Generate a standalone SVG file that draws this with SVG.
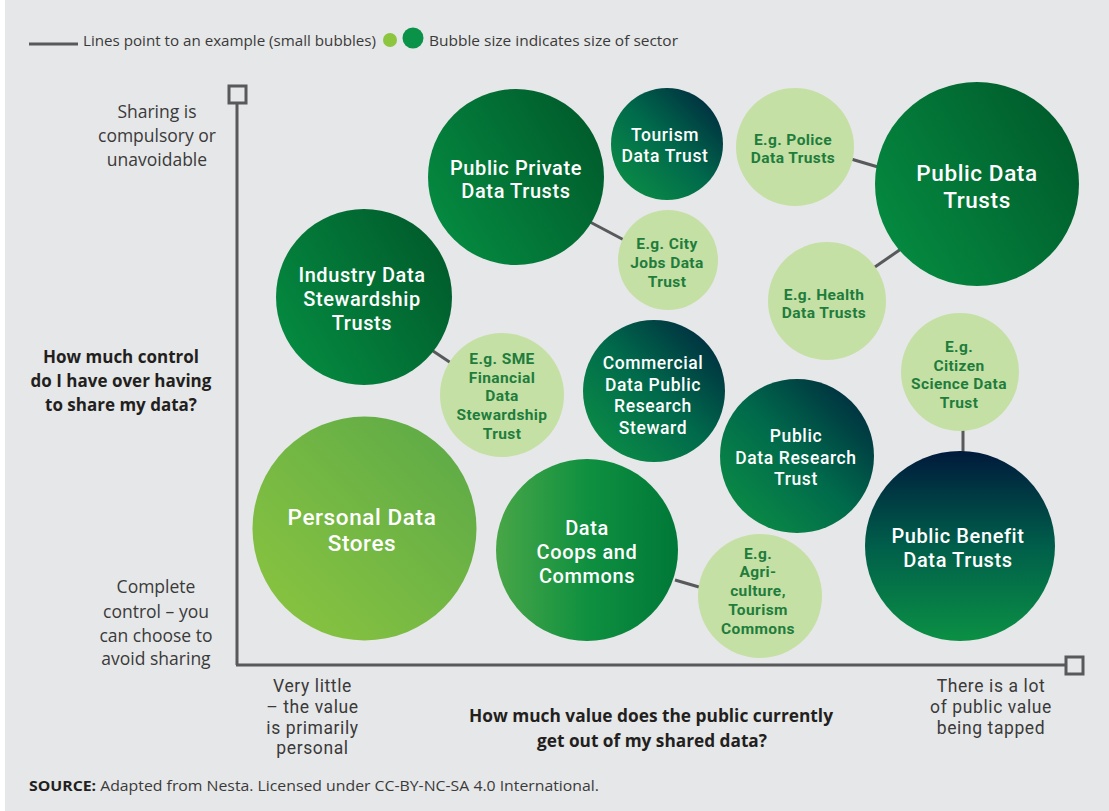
<svg xmlns="http://www.w3.org/2000/svg" width="1109" height="811" viewBox="0 0 1109 811">
<style>
.bt{font-family:Roboto,"Liberation Sans",sans-serif;font-weight:500;fill:#ffffff;text-anchor:middle;letter-spacing:0.6px}
.lt{font-family:Roboto,"Liberation Sans",sans-serif;font-weight:700;fill:#1f7d3c;text-anchor:middle;font-size:15.5px;letter-spacing:0.4px}
.ax{font-family:"Open Sans","Liberation Sans",sans-serif;fill:#3a3a3a;text-anchor:middle;font-size:17.5px}
.axr{font-family:Roboto,"Liberation Sans",sans-serif;fill:#3a3a3a;text-anchor:middle;font-size:17.5px;letter-spacing:0.6px}
.axb{font-family:"Open Sans","Liberation Sans",sans-serif;font-weight:700;fill:#231f20;text-anchor:middle;font-size:17px}
.cn{font-family:"Open Sans","Liberation Sans",sans-serif;fill:#3a3a3a;font-size:15px}
.conn line{stroke:#58595b;stroke-width:3}
.light{fill:#c5e0a5}
</style>
<defs>
<linearGradient id="gDeep" x1="0" y1="0.8" x2="1" y2="0.2"><stop offset="0" stop-color="#058c41"/><stop offset="1" stop-color="#005a2b"/></linearGradient>
<linearGradient id="gNavy" x1="0" y1="1" x2="1" y2="0"><stop offset="0" stop-color="#0e9444"/><stop offset="0.5" stop-color="#006a4b"/><stop offset="1" stop-color="#001f3d"/></linearGradient>
<linearGradient id="gBen" x1="0" y1="0" x2="0" y2="1"><stop offset="0" stop-color="#001a3c"/><stop offset="0.5" stop-color="#005e4a"/><stop offset="1" stop-color="#0b9044"/></linearGradient>
<linearGradient id="gCoop" x1="0" y1="0" x2="1" y2="0"><stop offset="0" stop-color="#48a647"/><stop offset="0.5" stop-color="#0f9040"/><stop offset="1" stop-color="#007838"/></linearGradient>
<linearGradient id="gPers" x1="0" y1="1" x2="1" y2="0"><stop offset="0" stop-color="#8dc63f"/><stop offset="1" stop-color="#5aa848"/></linearGradient>
</defs>
<rect x="0" y="0" width="1109" height="811" fill="#ffffff"/>
<rect x="5" y="0" width="1104" height="811" fill="#e6e7e8"/>

<g id="legend">
<line x1="29" y1="44" x2="78" y2="44" stroke="#58595b" stroke-width="3"/>
<text class="cn" x="83" y="46" textLength="293" lengthAdjust="spacingAndGlyphs">Lines point to an example (small bubbles)</text>
<circle cx="390" cy="40" r="7" fill="#8cc63f"/>
<circle cx="413" cy="38" r="10.5" fill="#0a9348"/>
<text class="cn" x="429" y="46" textLength="249" lengthAdjust="spacingAndGlyphs">Bubble size indicates size of sector</text>
</g>

<g id="axes" fill="none" stroke="#58595b" stroke-width="3">
<line x1="237" y1="103" x2="237" y2="665"/>
<line x1="236" y1="665" x2="1066" y2="665"/>
<rect x="229" y="86" width="17" height="17"/>
<rect x="1066" y="657" width="17" height="17"/>
</g>

<g id="axis-labels">
<text class="ax" x="157" y="118">Sharing is</text>
<text class="ax" x="157" y="142">compulsory or</text>
<text class="ax" x="157" y="166">unavoidable</text>
<text class="axb" x="121" y="363">How much control</text>
<text class="axb" x="121" y="387">do I have over having</text>
<text class="axb" x="121" y="411">to share my data?</text>
<text class="ax" x="156" y="593">Complete</text>
<text class="ax" x="156" y="618">control – you</text>
<text class="ax" x="156" y="642">can choose to</text>
<text class="ax" x="156" y="665">avoid sharing</text>
<text class="axr" x="312.5" y="692">Very little</text>
<text class="axr" x="312.5" y="713">– the value</text>
<text class="axr" x="312.5" y="734">is primarily</text>
<text class="axr" x="312.5" y="754">personal</text>
<text class="axb" x="651" y="722" textLength="364" lengthAdjust="spacingAndGlyphs">How much value does the public currently</text>
<text class="axb" x="652" y="747" textLength="230" lengthAdjust="spacingAndGlyphs">get out of my shared data?</text>
<text class="axr" x="991" y="692">There is a lot</text>
<text class="axr" x="991" y="713">of public value</text>
<text class="axr" x="991" y="734">being tapped</text>
</g>

<g id="connectors" class="conn">
<line x1="590" y1="222" x2="624" y2="240"/>
<line x1="430" y1="349" x2="451" y2="363"/>
<line x1="851" y1="159" x2="878" y2="167"/>
<line x1="872" y1="269" x2="901" y2="249"/>
<line x1="963" y1="429" x2="963" y2="456"/>
<line x1="675" y1="580" x2="699" y2="587"/>
</g>

<g id="public-private">
<circle cx="516" cy="177" r="88" fill="url(#gDeep)"/>
<text class="bt" font-size="20" x="516" y="175">Public Private</text>
<text class="bt" font-size="20" x="516" y="198">Data Trusts</text>
</g>
<g id="industry">
<circle cx="364" cy="297" r="88" fill="url(#gDeep)"/>
<text class="bt" font-size="20" x="362" y="282">Industry Data</text>
<text class="bt" font-size="20" x="362" y="306">Stewardship</text>
<text class="bt" font-size="20" x="362" y="330">Trusts</text>
</g>
<g id="tourism">
<circle cx="667" cy="144" r="56" fill="url(#gNavy)"/>
<text class="bt" font-size="17.5" x="665" y="141">Tourism</text>
<text class="bt" font-size="17.5" x="665" y="162">Data Trust</text>
</g>
<g id="police">
<circle cx="795" cy="147" r="59" class="light"/>
<text class="lt" x="793" y="145">E.g. Police</text>
<text class="lt" x="793" y="163">Data Trusts</text>
</g>
<g id="public-data-trusts">
<circle cx="977" cy="184" r="102" fill="url(#gDeep)"/>
<text class="bt" font-size="22.5" x="977" y="181">Public Data</text>
<text class="bt" font-size="22.5" x="977" y="208">Trusts</text>
</g>
<g id="city-jobs">
<circle cx="668" cy="260" r="50" class="light"/>
<text class="lt" x="667" y="249">E.g. City</text>
<text class="lt" x="667" y="268">Jobs Data</text>
<text class="lt" x="667" y="287">Trust</text>
</g>
<g id="health">
<circle cx="827" cy="301" r="59" class="light"/>
<text class="lt" x="824" y="300">E.g. Health</text>
<text class="lt" x="824" y="318">Data Trusts</text>
</g>
<g id="citizen">
<circle cx="960" cy="372" r="59" class="light"/>
<text class="lt" x="959" y="352">E.g.</text>
<text class="lt" x="959" y="371">Citizen</text>
<text class="lt" x="959" y="389">Science Data</text>
<text class="lt" x="959" y="408">Trust</text>
</g>
<g id="sme">
<circle cx="502" cy="395" r="62" class="light"/>
<text class="lt" x="502" y="364">E.g. SME</text>
<text class="lt" x="502" y="383">Financial</text>
<text class="lt" x="502" y="401">Data</text>
<text class="lt" x="502" y="420">Stewardship</text>
<text class="lt" x="502" y="439">Trust</text>
</g>
<g id="commercial">
<circle cx="654" cy="391" r="71" fill="url(#gNavy)"/>
<text class="bt" font-size="17.5" x="653" y="369">Commercial</text>
<text class="bt" font-size="17.5" x="653" y="391">Data Public</text>
<text class="bt" font-size="17.5" x="653" y="412">Research</text>
<text class="bt" font-size="17.5" x="653" y="434">Steward</text>
</g>
<g id="public-data-research">
<circle cx="797" cy="456" r="77" fill="url(#gNavy)"/>
<text class="bt" font-size="17.5" x="796" y="442">Public</text>
<text class="bt" font-size="17.5" x="796" y="464">Data Research</text>
<text class="bt" font-size="17.5" x="796" y="485">Trust</text>
</g>
<g id="public-benefit">
<circle cx="960" cy="546" r="95" fill="url(#gBen)"/>
<text class="bt" font-size="20" x="958" y="543">Public Benefit</text>
<text class="bt" font-size="20" x="958" y="567">Data Trusts</text>
</g>
<g id="personal">
<circle cx="364.5" cy="528.5" r="112" fill="url(#gPers)"/>
<text class="bt" font-size="22.5" x="362" y="525">Personal Data</text>
<text class="bt" font-size="22.5" x="362" y="551">Stores</text>
</g>
<g id="coops">
<circle cx="587" cy="550" r="91" fill="url(#gCoop)"/>
<text class="bt" font-size="20" x="587" y="535">Data</text>
<text class="bt" font-size="20" x="587" y="559">Coops and</text>
<text class="bt" font-size="20" x="587" y="583">Commons</text>
</g>
<g id="agri">
<circle cx="760" cy="596" r="62" class="light"/>
<text class="lt" x="758" y="559">E.g.</text>
<text class="lt" x="758" y="577">Agri-</text>
<text class="lt" x="758" y="596">culture,</text>
<text class="lt" x="758" y="615">Tourism</text>
<text class="lt" x="758" y="634">Commons</text>
</g>

<g id="source">
<text class="cn" x="29" y="791" font-size="14" textLength="570" lengthAdjust="spacingAndGlyphs"><tspan font-weight="700" fill="#231f20">SOURCE:</tspan> Adapted from Nesta. Licensed under CC-BY-NC-SA 4.0 International.</text>
</g>
</svg>
